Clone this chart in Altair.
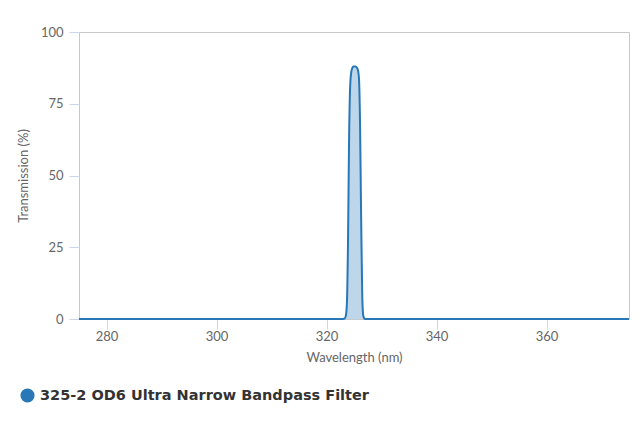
import altair as alt
import pandas as pd

series_name = "325-2 OD6 Ultra Narrow Bandpass Filter"
wavelength = [275, 300, 320, 323.0, 323.3, 323.5, 323.7, 323.9, 324.1, 324.3, 324.5,
              324.7, 324.9, 325.1, 325.3, 325.5, 325.7, 325.9, 326.1, 326.3, 326.5,
              326.7, 327.0, 330, 350, 375]
transmission = [0, 0, 0, 0, 0.2, 1.0, 5, 25, 62, 81, 86,
                87.5, 88, 88, 88, 87.6, 86.8, 84, 68, 35, 8,
                1.0, 0, 0, 0, 0]

df = pd.DataFrame({"wl": wavelength, "t": transmission, "series": series_name})

LINE = "#2878b8"

x = alt.X("wl:Q", title="Wavelength (nm)",
          scale=alt.Scale(domain=[275, 375], nice=False, zero=False),
          axis=alt.Axis(values=[280, 300, 320, 340, 360], grid=False, domain=False,
                        tickColor="#ccd6eb", tickSize=10, labelPadding=1,
                        titlePadding=8))
y = alt.Y("t:Q", title="Transmission (%)",
          scale=alt.Scale(domain=[0, 100], nice=False),
          axis=alt.Axis(values=[0, 25, 50, 75, 100], grid=False, domain=False,
                        tickColor="#ccd6eb", tickSize=10, labelPadding=6,
                        titlePadding=10))

area = alt.Chart(df).mark_area(color=LINE, opacity=0.3, interpolate="monotone").encode(x=x, y=y)
line = alt.Chart(df).mark_line(strokeWidth=2, interpolate="monotone").encode(
    x=x, y=y,
    color=alt.Color("series:N", scale=alt.Scale(range=[LINE]),
                    legend=alt.Legend(title=None, orient="none", legendX=-59, legendY=356,
                                      symbolType="circle", symbolSize=200,
                                      symbolFillColor=LINE, symbolStrokeColor=LINE,
                                      symbolStrokeWidth=0, symbolOpacity=1,
                                      labelFont="DejaVu Sans", labelFontWeight="bold",
                                      labelFontSize=14.5, labelColor="#333333",
                                      labelOffset=5, padding=0, labelLimit=500)))

chart = (area + line).properties(
    width=550, height=287,
    autosize=alt.AutoSizeParams(type="none"),
    padding={"left": 71, "top": 24, "right": 3, "bottom": 100},
).configure_view(stroke="#c8c8c8", strokeWidth=1).configure_axis(
    labelFont="Lato", labelFontSize=13, labelColor="#666666",
    titleFont="Lato", titleFontSize=13, titleColor="#666666", titleFontWeight="normal",
)

chart.save("out.html", embed_options={"renderer": "svg", "actions": False})
